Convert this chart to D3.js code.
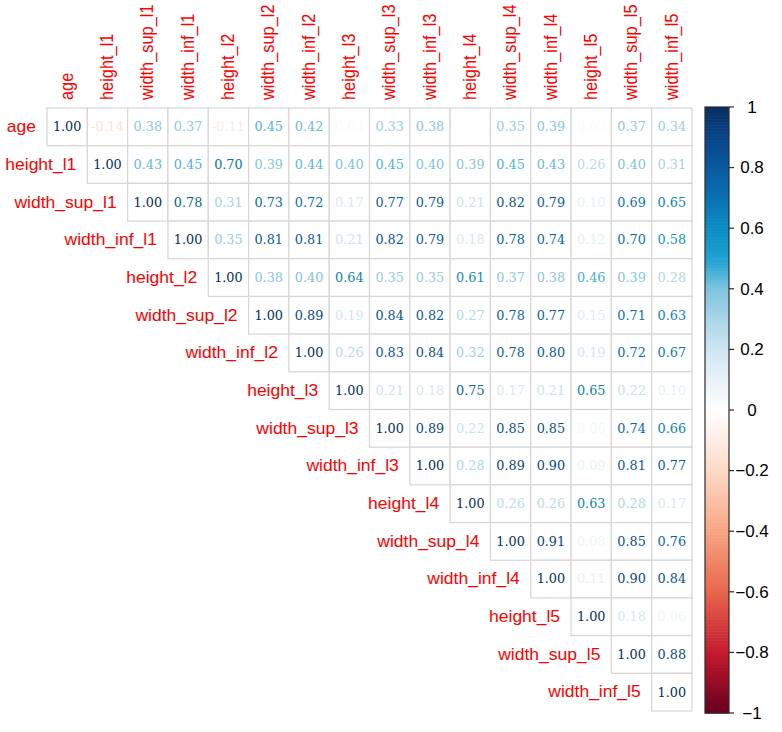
<!DOCTYPE html>
<html>
<head>
<meta charset="utf-8">
<script src="https://cdn.jsdelivr.net/npm/d3@7"></script>
<style>
  html, body { margin: 0; padding: 0; background: #fff; }
  svg { display: block; }
</style>
</head>
<body>
<svg id="chart" width="782" height="732"></svg>
<script>
// ---------- data ----------
const variables = ["age", "height_l1", "width_sup_l1", "width_inf_l1", "height_l2",
  "width_sup_l2", "width_inf_l2", "height_l3", "width_sup_l3", "width_inf_l3",
  "height_l4", "width_sup_l4", "width_inf_l4", "height_l5", "width_sup_l5", "width_inf_l5"];

// upper triangle rows (starting at the diagonal)
const rowAge        = [1.00, -0.14, 0.38, 0.37, -0.11, 0.45, 0.42, 0.03, 0.33, 0.38, 0.00, 0.35, 0.39, 0.03, 0.37, 0.34];
const rowHeightL1   = [1.00, 0.43, 0.45, 0.70, 0.39, 0.44, 0.40, 0.45, 0.40, 0.39, 0.45, 0.43, 0.26, 0.40, 0.31];
const rowWidthSupL1 = [1.00, 0.78, 0.31, 0.73, 0.72, 0.17, 0.77, 0.79, 0.21, 0.82, 0.79, 0.10, 0.69, 0.65];
const rowWidthInfL1 = [1.00, 0.35, 0.81, 0.81, 0.21, 0.82, 0.79, 0.18, 0.78, 0.74, 0.12, 0.70, 0.58];
const rowHeightL2   = [1.00, 0.38, 0.40, 0.64, 0.35, 0.35, 0.61, 0.37, 0.38, 0.46, 0.39, 0.28];
const rowWidthSupL2 = [1.00, 0.89, 0.19, 0.84, 0.82, 0.27, 0.78, 0.77, 0.15, 0.71, 0.63];
const rowWidthInfL2 = [1.00, 0.26, 0.83, 0.84, 0.32, 0.78, 0.80, 0.19, 0.72, 0.67];
const rowHeightL3   = [1.00, 0.21, 0.18, 0.75, 0.17, 0.21, 0.65, 0.22, 0.10];
const rowWidthSupL3 = [1.00, 0.89, 0.22, 0.85, 0.85, 0.06, 0.74, 0.66];
const rowWidthInfL3 = [1.00, 0.28, 0.89, 0.90, 0.09, 0.81, 0.77];
const rowHeightL4   = [1.00, 0.26, 0.26, 0.63, 0.28, 0.17];
const rowWidthSupL4 = [1.00, 0.91, 0.08, 0.85, 0.76];
const rowWidthInfL4 = [1.00, 0.11, 0.90, 0.84];
const rowHeightL5   = [1.00, 0.18, 0.06];
const rowWidthSupL5 = [1.00, 0.88];
const rowWidthInfL5 = [1.00];

const upperRows = [rowAge, rowHeightL1, rowWidthSupL1, rowWidthInfL1, rowHeightL2,
  rowWidthSupL2, rowWidthInfL2, rowHeightL3, rowWidthSupL3, rowWidthInfL3,
  rowHeightL4, rowWidthSupL4, rowWidthInfL4, rowHeightL5, rowWidthSupL5, rowWidthInfL5];

const legendTicks = [1, 0.8, 0.6, 0.4, 0.2, 0, -0.2, -0.4, -0.6, -0.8, -1];

const paletteStops = [-1, -0.8, -0.6, -0.4, -0.2, 0, 0.2, 0.4, 0.5, 0.6, 0.7, 0.8, 0.9, 1];
const paletteColors = ["#67001f", "#c41a2e", "#e8664e", "#f7a482", "#fddac6", "#ffffff",
  "#cfe6f1", "#80c4e0", "#1ea3d3", "#0b8cc5", "#0a72b3", "#0a5aa0", "#08458a", "#053061"];

// ---------- build cells ----------
const cells = [];
upperRows.forEach((row, i) => {
  row.forEach((v, k) => {
    cells.push({ r: variables[i], c: variables[i + k], v: v });
  });
});

// ---------- drawing ----------
const svg = d3.select("#chart");

const x = d3.scaleBand().domain(variables).range([47, 692]);
const y = d3.scaleBand().domain(variables).range([108, 711]);
const color = d3.scaleLinear().domain(paletteStops).range(paletteColors).interpolate(d3.interpolateRgb);

const fmt = v => (v < 0 ? "-" : "") + Math.abs(v).toFixed(2);
const squeeze = 0.935; // vertical / horizontal aspect of the reference picture

// cell grid
svg.append("g").selectAll("rect").data(cells).join("rect")
  .attr("x", d => x(d.c))
  .attr("y", d => y(d.r))
  .attr("width", x.bandwidth())
  .attr("height", y.bandwidth())
  .attr("fill", "#fff")
  .attr("stroke", "#d6d6d6")
  .attr("stroke-width", 1.2);

// numbers
svg.append("g").selectAll("text").data(cells).join("text")
  .attr("transform", d => `translate(${x(d.c) + x.bandwidth() / 2},${y(d.r) + y.bandwidth() / 2}) scale(1,${squeeze})`)
  .attr("text-anchor", "middle")
  .attr("dominant-baseline", "central")
  .attr("font-family", "'DejaVu Serif', serif")
  .attr("font-size", 12.8)
  .attr("fill", d => color(d.v))
  .text(d => fmt(d.v));

// row labels
svg.append("g").selectAll("text").data(variables).join("text")
  .attr("transform", d => `translate(${x(d) - 11},${y(d) + y.bandwidth() / 2}) scale(1,${squeeze})`)
  .attr("text-anchor", "end")
  .attr("dominant-baseline", "central")
  .attr("font-family", "'Liberation Sans', Arial, sans-serif")
  .attr("font-size", 17.5)
  .attr("fill", "#ff0000")
  .text(d => d);

// column labels
svg.append("g").selectAll("text").data(variables).join("text")
  .attr("transform", d => `translate(${x(d) + x.bandwidth() / 2},100) rotate(-90) scale(${squeeze},1)`)
  .attr("text-anchor", "start")
  .attr("dominant-baseline", "central")
  .attr("font-family", "'Liberation Sans', Arial, sans-serif")
  .attr("font-size", 17.5)
  .attr("fill", "#ff0000")
  .text(d => d);

// ---------- colour legend ----------
const lx0 = 705, lx1 = 729;
const ly = d3.scaleLinear().domain([1, -1]).range([107, 713]);
const nSteps = 200;
const steps = d3.range(nSteps).map(i => -1 + (i + 0.5) * 2 / nSteps);
const stepH = (ly(-1) - ly(1)) / nSteps;
svg.append("g").selectAll("rect").data(steps).join("rect")
  .attr("x", lx0)
  .attr("y", d => ly(d) - stepH / 2)
  .attr("width", lx1 - lx0)
  .attr("height", stepH + 0.6)
  .attr("fill", d => color(d));

svg.append("rect")
  .attr("x", lx0).attr("y", ly(1))
  .attr("width", lx1 - lx0).attr("height", ly(-1) - ly(1))
  .attr("fill", "none").attr("stroke", "#2a2a2a").attr("stroke-width", 1.2);

const lg = svg.append("g");
lg.selectAll("line").data(legendTicks).join("line")
  .attr("x1", lx1).attr("x2", lx1 + 5)
  .attr("y1", d => ly(d)).attr("y2", d => ly(d))
  .attr("stroke", "#2a2a2a").attr("stroke-width", 1.2);
lg.selectAll("text").data(legendTicks).join("text")
  .attr("transform", d => `translate(752,${ly(d)}) scale(1,${squeeze})`)
  .attr("text-anchor", "middle")
  .attr("dominant-baseline", "central")
  .attr("font-family", "'Liberation Sans', Arial, sans-serif")
  .attr("font-size", 17)
  .attr("fill", "#000")
  .text(d => (d < 0 ? "\u2212" : "") + String(Math.abs(d)));
</script>
</body>
</html>
